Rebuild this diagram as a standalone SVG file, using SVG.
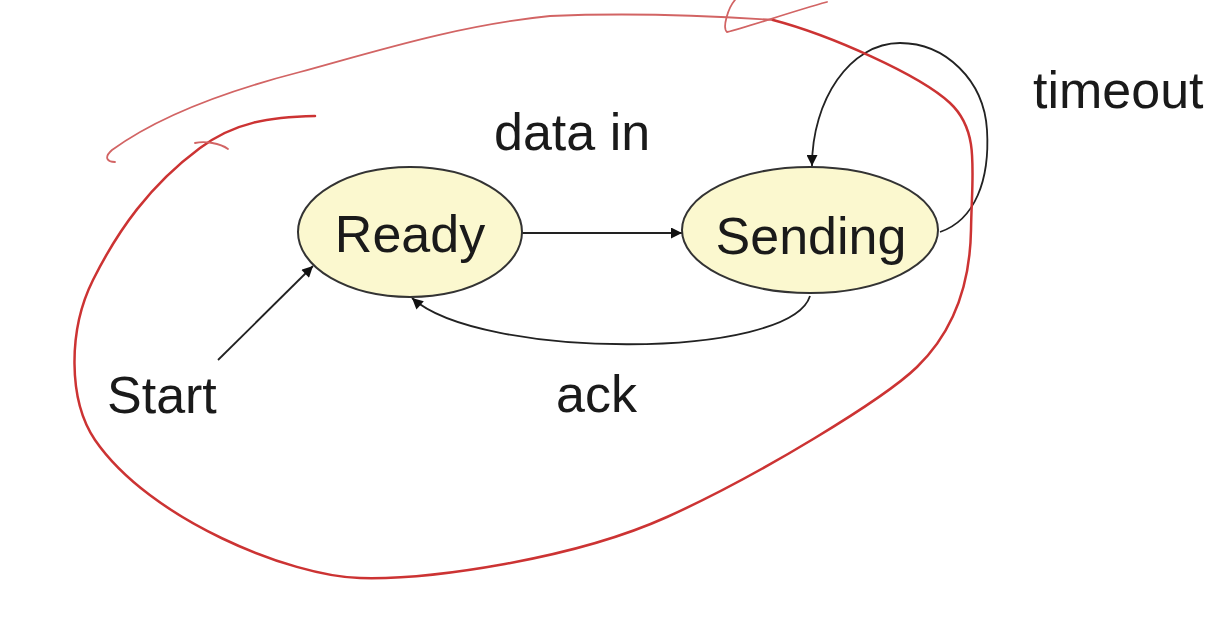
<svg xmlns="http://www.w3.org/2000/svg" width="1218" height="640" viewBox="0 0 1218 640">
<style>
.node{fill:#fbf8cf;stroke:#333;stroke-width:2}
.lbl{font-family:"Liberation Sans",Arial,sans-serif;font-size:52px;fill:#1a1a1a}
.edge{fill:none;stroke:#222;stroke-width:1.8}
.ink{fill:none;stroke:#cc3333;stroke-width:2.5;stroke-linecap:round;stroke-linejoin:round}
.ink2{fill:none;stroke:#d26464;stroke-width:1.8;stroke-linecap:round;stroke-linejoin:round}
</style>
<defs>
<marker id="arr" viewBox="0 0 10 10" refX="10" refY="5" markerWidth="13" markerHeight="11" orient="auto" markerUnits="userSpaceOnUse">
<path d="M0,0 L10,5 L0,10 z" fill="#111"/>
</marker>
</defs>
<rect width="1218" height="640" fill="#fff"/>
<g id="connectors">
<path class="edge" d="M 522 233 L 682 233" marker-end="url(#arr)"/>
<path class="edge" d="M 218 360 L 313 266" marker-end="url(#arr)"/>
<path class="edge" d="M 810 296 C 790 360, 480 360, 412 298" marker-end="url(#arr)"/>
<path class="edge" d="M 940 232 C 975 220, 990 180, 987 130 C 984 80, 945 43, 900 43 C 850 43, 812 100, 812 166" marker-end="url(#arr)"/>
</g>
<g id="node-ready">
<ellipse class="node" cx="410" cy="232" rx="112" ry="65"/>
<text class="lbl" x="410" y="252" text-anchor="middle">Ready</text>
</g>
<g id="node-sending">
<ellipse class="node" cx="810" cy="230" rx="128" ry="63"/>
<text class="lbl" x="811" y="254" text-anchor="middle">Sending</text>
</g>
<g id="labels">
<text class="lbl" x="494" y="150">data in</text>
<text class="lbl" x="1033" y="108">timeout</text>
<text class="lbl" x="107" y="413">Start</text>
<text class="lbl" x="556" y="412">ack</text>
</g>
<g id="annotation">
<path class="ink2" d="M 115 162 C 108 162, 103 158, 112 150 C 160 115, 230 90, 300 72 C 380 50, 460 25, 550 16 C 620 13, 700 15, 773 20"/>
<path class="ink" d="M 773 20 C 830 35, 920 75, 950 103 C 980 131, 972 170, 971 230 C 970 290, 950 335, 917 367 C 884 399, 760 475, 667 517 C 574 559, 430 580, 360 578 C 290 576, 150 520, 95 440 C 68 400, 68 330, 93 280 C 118 230, 150 185, 200 148 C 235 122, 270 117, 315 116"/>
<path class="ink2" d="M 735 0 C 728 8, 722 28, 727 32 C 745 28, 790 12, 827 2"/>
<path class="ink2" d="M 195 143 C 205 141, 220 143, 228 149"/>
</g>
</svg>
